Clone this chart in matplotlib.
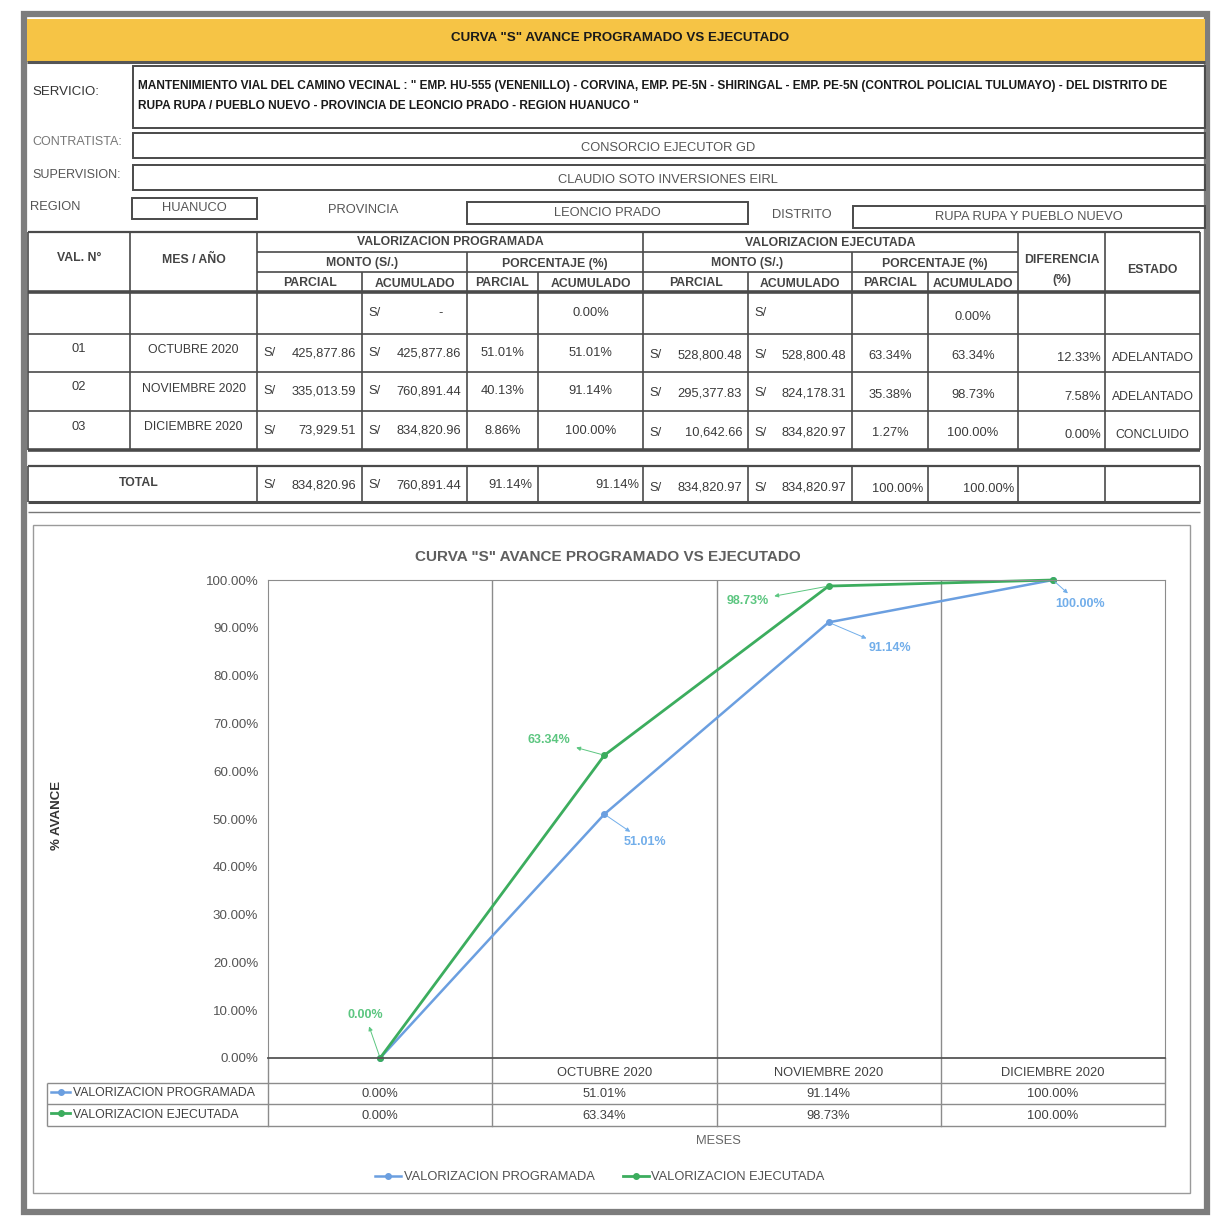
import matplotlib
matplotlib.use("Agg")
import matplotlib.pyplot as plt
from matplotlib.patches import Rectangle
from matplotlib.ticker import FuncFormatter

plt.rcParams["font.family"] = ["Liberation Sans", "DejaVu Sans"]

# ---------------------------------------------------------------- data
titulo = 'CURVA "S" AVANCE PROGRAMADO VS EJECUTADO'
servicio = [
    'MANTENIMIENTO VIAL DEL CAMINO VECINAL : " EMP. HU-555 (VENENILLO) - CORVINA, EMP. PE-5N - SHIRINGAL - '
    'EMP. PE-5N (CONTROL POLICIAL TULUMAYO) - DEL DISTRITO DE',
    'RUPA RUPA / PUEBLO NUEVO - PROVINCIA DE LEONCIO PRADO - REGION HUANUCO "',
]
contratista = "CONSORCIO EJECUTOR GD"
supervision = "CLAUDIO SOTO INVERSIONES EIRL"
region = "HUANUCO"
provincia = "LEONCIO PRADO"
distrito = "RUPA RUPA Y PUEBLO NUEVO"

val_n = ["01", "02", "03"]
meses = ["OCTUBRE 2020", "NOVIEMBRE 2020", "DICIEMBRE 2020"]
prog_parcial = [425877.86, 335013.59, 73929.51]
prog_acum = [425877.86, 760891.44, 834820.96]
prog_pct_parcial = [51.01, 40.13, 8.86]
ejec_parcial = [528800.48, 295377.83, 10642.66]
ejec_acum = [528800.48, 824178.31, 834820.97]
ejec_pct_parcial = [63.34, 35.38, 1.27]
diferencia = [12.33, 7.58, 0.00]
estado = ["ADELANTADO", "ADELANTADO", "CONCLUIDO"]
prog_total = [834820.96, 760891.44, 91.14, 91.14]
ejec_total = [834820.97, 834820.97, 100.00, 100.00]

# curve (first category is the starting point)
categorias = [""] + meses
prog_pct_acum = [0.00, 51.01, 91.14, 100.00]
ejec_pct_acum = [0.00, 63.34, 98.73, 100.00]
serie_prog = "VALORIZACION PROGRAMADA"
serie_ejec = "VALORIZACION EJECUTADA"

# ---------------------------------------------------------------- styles
W, H = 1218, 1222
LINE = "#4a4a4a"
TXT = "#3a3a3a"
BLUE = "#6b9fe0"
GREEN = "#3cad5e"
BLUE_LBL = "#72aeea"
GREEN_LBL = "#5cc680"
FS = 9.3

fig = plt.figure(figsize=(W / 100, H / 100), dpi=100)
pg = fig.add_axes([0, 0, 1, 1], zorder=0)
pg.set_xlim(0, W)
pg.set_ylim(H, 0)
pg.axis("off")


def hl(y, x0, x1, lw=1.2, c=LINE):
    pg.plot([x0, x1], [y, y], color=c, lw=lw, solid_capstyle="butt")


def vl(x, y0, y1, lw=1.2, c=LINE):
    pg.plot([x, x], [y0, y1], color=c, lw=lw, solid_capstyle="butt")


def txt(x, y, s, ha="center", size=FS, bold=False, color=TXT, **kw):
    pg.text(x, y, s, ha=ha, va="center", fontsize=size,
            fontweight="bold" if bold else "normal", color=color, **kw)


def box(x0, y0, x1, y1, lw=1.4):
    pg.add_patch(Rectangle((x0, y0), x1 - x0, y1 - y0, fill=False, ec=LINE, lw=lw))


# outer frame + title bar
pg.add_patch(Rectangle((24, 14), 1183, 1198, fill=False, ec="#7d7d7d", lw=4.5))
pg.add_patch(Rectangle((27, 19), 1178, 43, fc="#f6c445", ec="none"))
hl(62, 27, 1205, lw=2.2, c="#555555")
txt(620, 38, titulo, size=9.6, bold=True, color="#1a1a1a")

# info block
box(133, 66, 1205, 128)
txt(32, 92, "SERVICIO:", ha="left", size=9.5, color="#333333")
txt(138, 86, servicio[0], ha="left", size=8.6, bold=True, color="#1a1a1a")
txt(138, 106, servicio[1], ha="left", size=8.6, bold=True, color="#1a1a1a")

box(133, 133, 1205, 158)
txt(32, 142, "CONTRATISTA:", ha="left", size=9, color="#777777")
txt(668, 148, contratista, size=9.3, color="#555555")
box(133, 165, 1205, 190)
txt(32, 175, "SUPERVISION:", ha="left", size=9, color="#555555")
txt(668, 180, supervision, size=9.3, color="#555555")

txt(30, 207, "REGION", ha="left", size=9.3, color="#555555")
box(132, 198, 257, 219)
txt(194, 208, region, size=9.3, color="#555555")
txt(363, 210, "PROVINCIA", size=9.3, color="#555555")
box(467, 202, 748, 224)
txt(607, 213, provincia, size=9.3, color="#555555")
txt(802, 215, "DISTRITO", size=9.3, color="#555555")
box(853, 206, 1205, 228)
txt(1029, 217, distrito, size=9.3, color="#555555")

# main table
cols = [28, 130, 257, 362, 467, 538, 643, 748, 852, 928, 1018, 1105, 1200]
mid = lambda a, b: (cols[a] + cols[b]) / 2

hl(232, 28, 1200, lw=1.6)
hl(252, 257, 1018)
hl(272, 257, 1018)
hl(292, 28, 1200, lw=2.6)
for x in [28, 130, 257, 643, 1018, 1105, 1200]:
    vl(x, 232, 292)
for x in [467, 852]:
    vl(x, 252, 292)
for x in [362, 538, 748, 928]:
    vl(x, 272, 292)

HB = dict(bold=True, size=8.8, color="#444444")
txt(mid(0, 1), 258, "VAL. N°", **HB)
txt(mid(1, 2), 260, "MES / AÑO", **HB)
txt(mid(2, 6), 242, "VALORIZACION PROGRAMADA", **HB)
txt(mid(6, 10), 243, "VALORIZACION EJECUTADA", **HB)
for a, b in [(2, 4), (6, 8)]:
    txt(mid(a, b), 263, "MONTO (S/.)", **HB)
    txt(mid(b, b + 2), 264, "PORCENTAJE (%)", **HB)
for c in [2, 4, 6, 8]:
    txt(mid(c, c + 1), 283, "PARCIAL", **HB)
    txt(mid(c + 1, c + 2), 284, "ACUMULADO", **HB)
txt(mid(10, 11), 260, "DIFERENCIA", **HB)
txt(mid(10, 11), 280, "(%)", **HB)
txt(mid(11, 12), 270, "ESTADO", **HB)

rows = [292, 334, 372, 411, 450]
for y in rows[1:-1]:
    hl(y, 28, 1200)
hl(450, 28, 1200, lw=2.6)
for x in cols:
    vl(x, 292, 450)


def money(c, y, v):
    txt(cols[c] + 6, y, "S/", ha="left")
    txt(cols[c + 1] - 6, y, f"{v:,.2f}", ha="right")


# starting row
y0 = (rows[0] + rows[1]) / 2
txt(cols[3] + 6, y0, "S/", ha="left")
txt(441, y0, "-")
txt(mid(5, 6), y0, f"{prog_pct_acum[0]:.2f}%")
txt(cols[7] + 6, y0, "S/", ha="left")
txt(mid(9, 10), y0 + 4, f"{ejec_pct_acum[0]:.2f}%")

for i in range(3):
    y = (rows[i + 1] + rows[i + 2]) / 2
    txt(mid(0, 1), y - 4, val_n[i])
    txt(mid(1, 2), y - 3, meses[i], size=8.8)
    money(2, y, prog_parcial[i])
    money(3, y, prog_acum[i])
    txt(mid(4, 5), y, f"{prog_pct_parcial[i]:.2f}%")
    txt(mid(5, 6), y, f"{prog_pct_acum[i + 1]:.2f}%")
    money(6, y + 2, ejec_parcial[i])
    money(7, y + 2, ejec_acum[i])
    txt(mid(8, 9), y + 3, f"{ejec_pct_parcial[i]:.2f}%")
    txt(mid(9, 10), y + 3, f"{ejec_pct_acum[i + 1]:.2f}%")
    txt(cols[11] - 4, y + 5, f"{diferencia[i]:.2f}%", ha="right")
    txt(mid(11, 12), y + 5, estado[i], size=8.8)

# total row
hl(466, 28, 1200, lw=1.6)
hl(502, 28, 1200, lw=2.2)
for x in [28] + cols[2:]:
    vl(x, 466, 502)
yt = 485
txt(139, yt - 2, "TOTAL", bold=True, size=8.8, color="#444444")
money(2, yt, prog_total[0])
money(3, yt, prog_total[1])
txt(mid(4, 5) + 8, yt, f"{prog_total[2]:.2f}%")
txt(cols[6] - 4, yt, f"{prog_total[3]:.2f}%", ha="right")
money(6, yt + 3, ejec_total[0])
money(7, yt + 3, ejec_total[1])
txt(mid(8, 9) + 8, yt + 4, f"{ejec_total[2]:.2f}%")
txt(cols[10] - 4, yt + 4, f"{ejec_total[3]:.2f}%", ha="right")
hl(512, 28, 1200, lw=1.0, c="#777777")

# ---------------------------------------------------------------- chart
pg.add_patch(Rectangle((33, 525), 1157, 668, fill=False, ec="#9a9a9a", lw=1.0))
txt(608, 557, titulo, size=11, bold=True, color="#5f5f5f")

PL, PR, PT, PB = 268, 1165, 580, 1058
ax = fig.add_axes([PL / W, 1 - PB / H, (PR - PL) / W, (PB - PT) / H], zorder=2)
ax.patch.set_alpha(0)
x = list(range(len(categorias)))
lp, = ax.plot(x, prog_pct_acum, color=BLUE, lw=1.8, marker="o", ms=4, label=serie_prog, clip_on=False)
le, = ax.plot(x, ejec_pct_acum, color=GREEN, lw=2.0, marker="o", ms=4, label=serie_ejec, clip_on=False)
ax.set_xlim(-0.5, len(categorias) - 0.5)
ax.set_ylim(0, 100)
ax.set_yticks(range(0, 101, 10))
ax.yaxis.set_major_formatter(FuncFormatter(lambda v, _: f"{v:.2f}%"))
ax.tick_params(axis="y", length=0, pad=7, labelsize=9.6, labelcolor="#555555")
ax.set_xticks([])
ax.set_xticks([i + 0.5 for i in range(len(categorias) - 1)], minor=True)
ax.tick_params(axis="x", which="minor", length=0)
ax.grid(axis="x", which="minor", color="#8c8c8c", lw=1.0)
for s in ["left", "right", "top"]:
    ax.spines[s].set_color("#8c8c8c")
ax.spines["bottom"].set_color("#555555")
ax.spines["bottom"].set_linewidth(1.3)

# data labels (offsets in pixels)
prog_off = [None, (41, -28), (61, -26), (27, -24)]
ejec_off = [(-15, 43), (-55, 15), (-81, -15), None]
for vals, offs, col in [(prog_pct_acum, prog_off, BLUE_LBL), (ejec_pct_acum, ejec_off, GREEN_LBL)]:
    for i, (v, off) in enumerate(zip(vals, offs)):
        if off is None:
            continue
        ax.annotate(f"{v:.2f}%", xy=(i, v), xytext=off, textcoords="offset pixels",
                    ha="center", va="center", fontsize=9, fontweight="bold", color=col,
                    arrowprops=dict(arrowstyle="<|-", color=col, lw=0.7, mutation_scale=6,
                                    shrinkA=2, shrinkB=2), annotation_clip=False)

# data table under the chart
tr = ax.get_xaxis_transform()
yfr = lambda ypx: (PB - ypx) / (PB - PT)
for b in [i - 0.5 for i in range(len(categorias) + 1)]:
    ax.plot([b, b], [0, yfr(1126)], transform=tr, color="#8c8c8c", lw=1.0, clip_on=False)
for ypx in [1083, 1104, 1126]:
    hl(ypx, 47, PR, lw=1.0, c="#8c8c8c")
vl(47, 1083, 1126, lw=1.0, c="#8c8c8c")
for i, cat in enumerate(categorias):
    ax.text(i, yfr(1073), cat, transform=tr, ha="center", va="center", fontsize=9.3, color="#404040")
    ax.text(i, yfr(1094), f"{prog_pct_acum[i]:.2f}%", transform=tr, ha="center", va="center",
            fontsize=9.3, color="#404040")
    ax.text(i, yfr(1116), f"{ejec_pct_acum[i]:.2f}%", transform=tr, ha="center", va="center",
            fontsize=9.3, color="#404040")

leg_bottom = ax.legend(handles=[lp, le], loc="center", ncol=2, frameon=False,
                       bbox_to_anchor=(600 / W, 1 - 1177 / H), bbox_transform=fig.transFigure,
                       fontsize=9.3, handlelength=2.0, handletextpad=0.2, columnspacing=2.2,
                       labelcolor="#505050")
ax.add_artist(leg_bottom)
ax.legend(handles=[lp, le], loc="upper left", frameon=False,
          bbox_to_anchor=(49 / W, 1 - 1085 / H), bbox_transform=fig.transFigure,
          fontsize=8.8, handlelength=1.6, handletextpad=0.2, labelspacing=0.8,
          borderpad=0.15, borderaxespad=0, labelcolor="#404040")

txt(57, 815, "% AVANCE", size=9.5, bold=True, color="#333333", rotation=90)
txt(718, 1141, "MESES", size=9.3, color="#666666")

fig.savefig("out.png", dpi=100)
